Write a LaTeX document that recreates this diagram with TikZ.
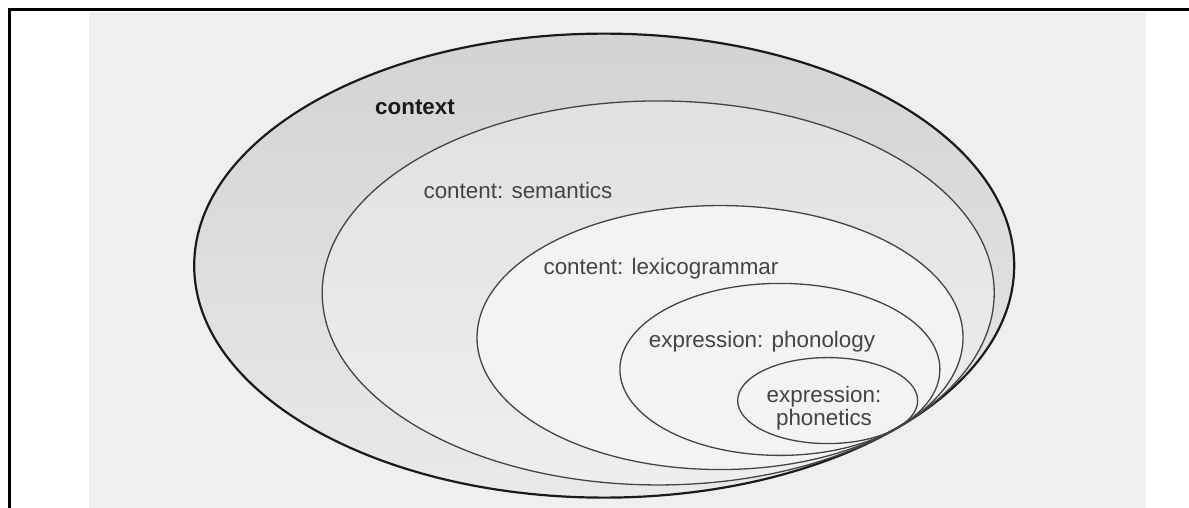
\documentclass[tikz,border=0pt]{standalone}
\usepackage{fontspec}
\setmainfont{Liberation Sans}
\usetikzlibrary{calc}
\definecolor{ink}{HTML}{1a1a1a}
\definecolor{ink2}{HTML}{444444}
\definecolor{scan}{HTML}{efefef}
\definecolor{ctxtop}{HTML}{d3d3d3}
\definecolor{ctxbot}{HTML}{e9e9e9}
\definecolor{semtop}{HTML}{e1e1e1}
\definecolor{sembot}{HTML}{eeeeee}
\definecolor{lexfill}{HTML}{f3f3f3}
\tikzset{
  ring/.style={draw=ink2,line width=0.65pt},
  outer/.style={ring,draw=ink,line width=1.1pt},
  lab/.style={font=\fontsize{11.2}{10}\selectfont,text=ink2,align=center,inner sep=0pt},
  frame/.style={draw=black,line width=1.5pt},
}
\begin{document}
\begin{tikzpicture}[x=0.5pt,y=-0.5pt]
\useasboundingbox (0,0) rectangle (1189,508);
% scanned page
\fill[scan] (89,12) rectangle (1146,508);
\draw[frame] (9,508) -- (9,10) -- (1189,10);
% the rings all touch at one point, lower right
\coordinate (tp) at (897,428);
\foreach \a/\b/\ct/\cb/\nm in {410/232/ctxtop/ctxbot/ctx, 336/192/semtop/sembot/sem, 243/132/lexfill/lexfill/lex, 160/86/lexfill/lexfill/pho, 90/43/lexfill/lexfill/pht}{
  \pgfmathsetmacro\t{atan(\b/\a*tan(60))}
  \coordinate (\nm) at ($(tp)-({\a*cos(\t)},{\b*sin(\t)})$);
  \shade[top color=\ct,bottom color=\cb] (\nm) ellipse [x radius=\a, y radius=\b];
}
\foreach \a/\b/\st/\nm in {410/232/outer/ctx, 336/192/ring/sem, 243/132/ring/lex, 160/86/ring/pho, 90/43/ring/pht}
  \draw[\st] (\nm) ellipse [x radius=\a, y radius=\b];
% labels
\node[lab,font=\fontsize{11.2}{10}\selectfont\bfseries,text=ink] (lctx) at (415,107) {context};
\node[lab] (lsem) at (518,190) {content: semantics};
\node[lab] (llex) at (661,269) {content: lexicogrammar};
\node[lab] (lpho) at (762,342) {expression: phonology};
\node[lab] (lpht) at (824,408) {expression:\\phonetics};
\end{tikzpicture}
\end{document}
